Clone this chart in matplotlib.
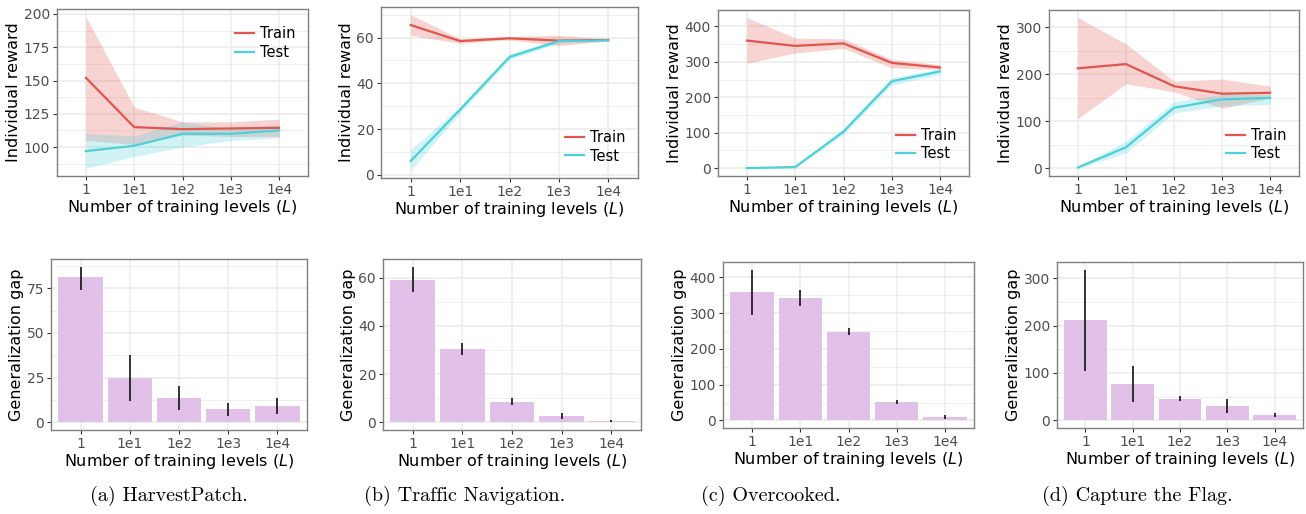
import matplotlib
matplotlib.use("Agg")
import matplotlib.pyplot as plt
import numpy as np
from matplotlib.ticker import MultipleLocator

# x categories (number of training levels)
levels = ["1", "1e1", "1e2", "1e3", "1e4"]

# --- top row: individual reward (train / test), mean and band ---
harvest_train = [152, 115, 113.5, 114, 114.5]
harvest_train_lo = [105, 102, 109, 108, 108]
harvest_train_hi = [198, 130, 119, 119, 121]
harvest_test = [97, 101, 110, 110, 112.5]
harvest_test_lo = [84, 93, 100, 105, 107]
harvest_test_hi = [110, 108.5, 119, 114, 117]

traffic_train = [65.5, 58.5, 59.7, 58.7, 59]
traffic_train_lo = [61, 57.5, 59, 56.5, 58.5]
traffic_train_hi = [70, 59.5, 60.5, 61, 59.5]
traffic_test = [6, 28.5, 51.5, 58.5, 58.8]
traffic_test_lo = [2, 27, 50.5, 57.5, 58.5]
traffic_test_hi = [11, 30, 53, 59.5, 59.3]

overcooked_train = [360, 345, 352, 297, 284]
overcooked_train_lo = [296, 325, 338, 283, 278]
overcooked_train_hi = [425, 367, 365, 307, 292]
overcooked_test = [0, 3, 103, 245, 273]
overcooked_test_lo = [-1, 1, 95, 235, 265]
overcooked_test_hi = [1, 5, 112, 255, 280]

ctf_train = [213, 222, 175, 159, 161]
ctf_train_lo = [106, 180, 163, 128, 150]
ctf_train_hi = [321, 265, 186, 190, 175]
ctf_test = [2, 45, 129, 147, 150]
ctf_test_lo = [0, 33, 118, 133, 136]
ctf_test_hi = [4, 58, 142, 158, 158]

# --- bottom row: generalization gap, mean and error bar ---
harvest_gap = [81, 25, 13.5, 7.5, 9]
harvest_gap_lo = [74, 12, 7, 3.5, 4.5]
harvest_gap_hi = [87, 37.5, 20, 11, 13.5]

traffic_gap = [59, 30.5, 8.5, 2.7, 0.5]
traffic_gap_lo = [54, 28, 7, 1.5, 0.3]
traffic_gap_hi = [64.5, 33, 10, 4, 0.8]

overcooked_gap = [360, 343, 248, 52, 10]
overcooked_gap_lo = [295, 320, 238, 46, 5]
overcooked_gap_hi = [422, 365, 259, 58, 16]

ctf_gap = [211, 77, 45, 31, 12]
ctf_gap_lo = [104, 38, 40, 15, 8]
ctf_gap_hi = [318, 115, 52, 46, 15]

captions = ["(a) HarvestPatch.", "(b) Traffic Navigation.",
            "(c) Overcooked.", "(d) Capture the Flag."]

W, H = 1306, 514
RED = "#E0564C"
CYAN = "#4DD0D8"
BAR = "#E1C1E7"
GRID = "#EBEBEB"
TICK = "#4D4D4D"
XLABEL = "Number of training levels ($L$)"


def rect(l, t, r, b):
    return [l / W, 1 - b / H, (r - l) / W, (b - t) / H]


def style(ax, step):
    ax.set_facecolor("white")
    for s in ax.spines.values():
        s.set_color("#7F7F7F")
        s.set_linewidth(1.0)
    ax.yaxis.set_major_locator(MultipleLocator(step))
    ax.yaxis.set_minor_locator(MultipleLocator(step / 2))
    ax.grid(True, which="major", color=GRID, lw=1.1)
    ax.grid(True, which="minor", axis="y", color=GRID, lw=0.55)
    ax.set_axisbelow(True)
    ax.tick_params(which="major", length=3, width=0.8, color="#333333",
                   labelsize=10, labelcolor=TICK, pad=2)
    ax.tick_params(which="minor", length=0)
    ax.set_xticks(range(len(levels)))
    ax.set_xticklabels(levels)
    ax.set_xlim(-0.6, len(levels) - 0.4)


def expand(lo, hi):
    d = hi - lo
    return lo - 0.05 * d, hi + 0.05 * d


fig = plt.figure(figsize=(W / 100, H / 100), dpi=100)

top_rects = [(57, 9, 308, 176), (381, 7, 638, 178),
             (718, 10, 969, 176), (1049, 10, 1299, 176)]
bot_rects = [(51, 259, 307, 430), (383, 259, 641, 430),
             (723, 262, 974, 428), (1057, 262, 1303, 428)]

top_data = [
    (harvest_train, harvest_train_lo, harvest_train_hi,
     harvest_test, harvest_test_lo, harvest_test_hi, 25, "upper right"),
    (traffic_train, traffic_train_lo, traffic_train_hi,
     traffic_test, traffic_test_lo, traffic_test_hi, 20, "lower right"),
    (overcooked_train, overcooked_train_lo, overcooked_train_hi,
     overcooked_test, overcooked_test_lo, overcooked_test_hi, 100, "lower right"),
    (ctf_train, ctf_train_lo, ctf_train_hi,
     ctf_test, ctf_test_lo, ctf_test_hi, 100, "lower right"),
]
bot_data = [
    (harvest_gap, harvest_gap_lo, harvest_gap_hi, 25),
    (traffic_gap, traffic_gap_lo, traffic_gap_hi, 20),
    (overcooked_gap, overcooked_gap_lo, overcooked_gap_hi, 100),
    (ctf_gap, ctf_gap_lo, ctf_gap_hi, 100),
]

x = np.arange(len(levels))

for i in range(4):
    tr, trl, trh, te, tel, teh, step, loc = top_data[i]
    ax = fig.add_axes(rect(*top_rects[i]))
    style(ax, step)
    ax.fill_between(x, trl, trh, color=RED, alpha=0.25, lw=0)
    ax.fill_between(x, tel, teh, color=CYAN, alpha=0.25, lw=0)
    ax.plot(x, tr, color=RED, lw=1.6, label="Train")
    ax.plot(x, te, color=CYAN, lw=1.6, label="Test")
    ax.set_ylim(*expand(min(trl + tel), max(trh + teh)))
    ax.set_ylabel("Individual reward", fontsize=11.5, labelpad=2)
    ax.set_xlabel(XLABEL, fontsize=11.5, labelpad=1)
    anchor = (1.02, 1.0) if loc == "upper right" else (1.02, -0.018)
    ax.legend(loc=loc, bbox_to_anchor=anchor, frameon=False, fontsize=10.5,
              handlelength=1.3, handletextpad=0.4, labelspacing=0.25,
              borderaxespad=0.8)

    g, gl, gh, step = bot_data[i]
    bx = fig.add_axes(rect(*bot_rects[i]))
    style(bx, step)
    bx.bar(x, g, width=0.9, color=BAR, zorder=2)
    bx.vlines(x, gl, gh, color="black", lw=1.1, zorder=3)
    bx.set_ylim(*expand(0, max(gh)))
    bx.set_ylabel("Generalization gap", fontsize=11.5, labelpad=2)
    bx.set_xlabel(XLABEL, fontsize=11.5, labelpad=1)

cap_x = [169, 465, 771, 1137]
for cx, c in zip(cap_x, captions):
    fig.text(cx / W, 1 - 496 / H, c, ha="center", va="center",
             fontsize=14.5, family="cmr10")

fig.savefig("out.png", dpi=100)
